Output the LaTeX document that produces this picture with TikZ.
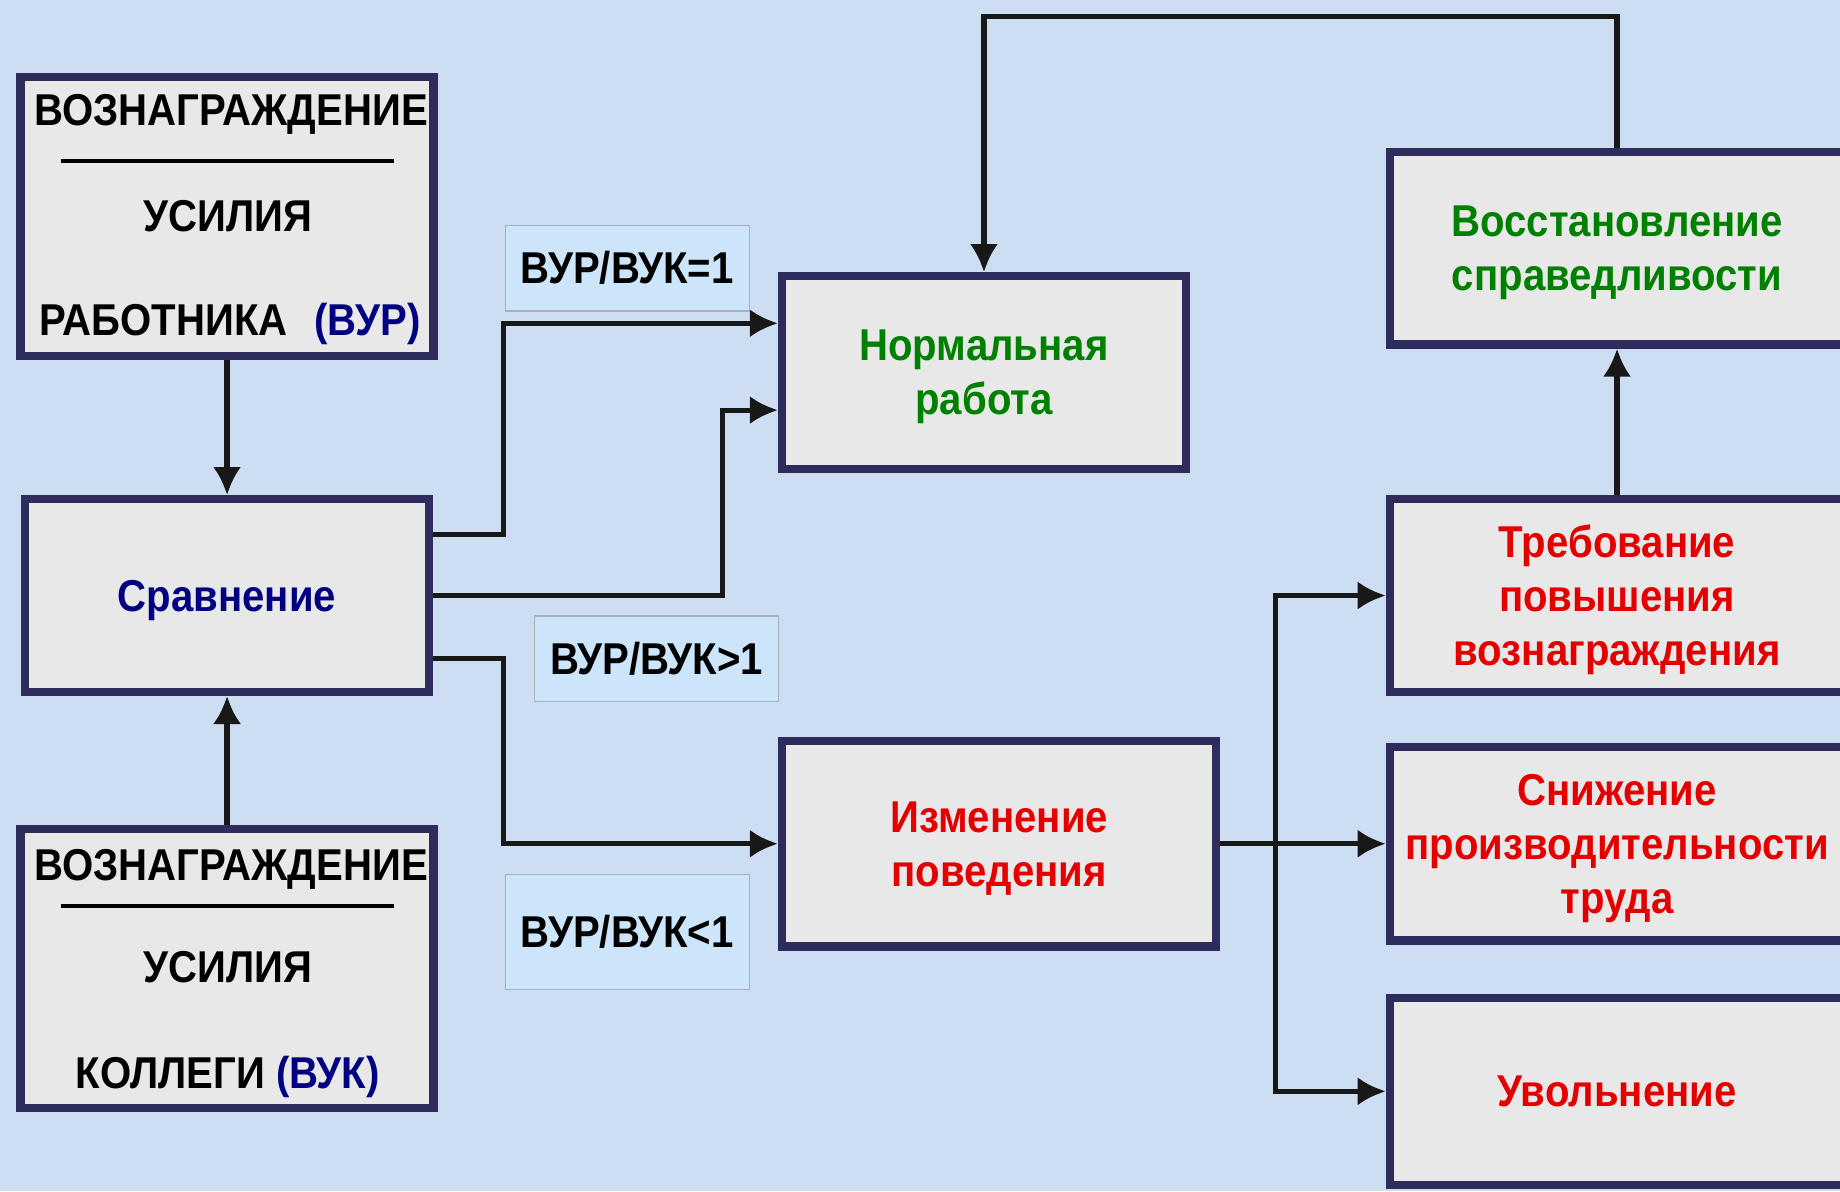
\documentclass[tikz,border=0pt]{standalone}
\usepackage{fontspec}
\setmainfont{Liberation Sans}[FakeStretch=0.9]
\usetikzlibrary{arrows.meta}
\definecolor{bgblue}{RGB}{206,222,242}
\definecolor{boxgray}{RGB}{232,232,232}
\definecolor{boxnavy}{RGB}{46,44,92}
\definecolor{lblblue}{RGB}{204,229,251}
\definecolor{lblgray}{RGB}{168,176,186}
\definecolor{txtgreen}{RGB}{0,128,0}
\definecolor{txtred}{RGB}{228,0,0}
\definecolor{txtnavy}{RGB}{0,0,128}
\definecolor{linkblack}{RGB}{24,24,24}
\begin{document}
\begin{tikzpicture}[x=0.5pt,y=-0.5pt,>={Latex[length=12pt,width=12pt]},line join=bevel,
  box/.style={draw=boxnavy,line width=3.5pt,fill=boxgray,line join=miter,align=center,inner sep=0pt,text depth=0pt,font=\fontsize{19}{23}\selectfont\bfseries},
  lbl/.style={draw=lblgray,line width=0.5pt,fill=lblblue,minimum width=104pt,inner sep=0pt,font=\fontsize{19}{23}\selectfont\bfseries},
  capt/.style={anchor=base,inner sep=0pt,font=\fontsize{19}{23}\selectfont\bfseries},
  link/.style={draw=linkblack,line width=2.2pt,line join=miter,->}]
%%
\path [use as bounding box,fill=bgblue] (0,0) rectangle (1568,1015);
\clip (0,0) rectangle (1568,1015);
%
\node (node_vur) at (193.5,184.5) [box,minimum width=176pt,minimum height=119pt] {};
  \node (node_vur_a) at (197,107) [capt] {ВОЗНАГРАЖДЕНИЕ};
  \draw [black,line width=1.5pt] (52,137) -- (336,137);
  \node (node_vur_b) at (194,197) [capt] {УСИЛИЯ};
  \node (node_vur_c) at (196,286) [capt] {РАБОТНИКА\hspace{0.6em}\textcolor{txtnavy}{(ВУР)}};
\node (node_cmp) at (193.5,507.5) [box,text=txtnavy,minimum width=172pt,minimum height=82pt] {Сравнение};
\node (node_vuk) at (193.5,825.5) [box,minimum width=176pt,minimum height=119pt] {};
  \node (node_vuk_a) at (197,750) [capt] {ВОЗНАГРАЖДЕНИЕ};
  \draw [black,line width=1.5pt] (52,772) -- (336,772);
  \node (node_vuk_b) at (194,837) [capt] {УСИЛИЯ};
  \node (node_vuk_c) at (194,928) [capt] {КОЛЛЕГИ \textcolor{txtnavy}{(ВУК)}};
%
\node (node_norm) at (838.5,317.5) [box,text=txtgreen,minimum width=172pt,minimum height=82pt] {Нормальная\\работа};
\node (node_chg) at (851.5,719) [box,text=txtred,minimum width=185pt,minimum height=87.5pt] {Изменение\\поведения};
\node (node_rest) at (1378,211.5) [box,text=txtgreen,minimum width=193.5pt,minimum height=82pt] {Восстановление\\справедливости};
\node (node_req) at (1378,507.5) [box,text=txtred,minimum width=193.5pt,minimum height=82pt] {Требование\\повышения\\вознаграждения};
\node (node_drop) at (1378,719) [box,text=txtred,minimum width=193.5pt,minimum height=82.5pt] {Снижение\\производительности\\труда};
\node (node_quit) at (1378,930) [box,text=txtred,minimum width=193.5pt,minimum height=79.5pt] {Увольнение};
%
\node (node_eq) at (534.5,228.5) [lbl,minimum height=36.5pt] {ВУР/ВУК=1};
\node (node_gt) at (559.5,561.5) [lbl,minimum height=36.5pt] {ВУР/ВУК>1};
\node (node_lt) at (534.5,794) [lbl,minimum height=49pt] {ВУР/ВУК<1};
%
\draw [link] (node_vur) -- (node_cmp);
\draw [link] (node_vuk) -- (node_cmp);
\draw [link] ([yshift=26pt]node_cmp.east) -- ++(60,0) |- ([yshift=21pt]node_norm.west);
\draw [link] (node_cmp.east) -- ++(247,0) |- ([yshift=-16pt]node_norm.west);
\draw [link] ([yshift=-27pt]node_cmp.east) -- ++(60,0) |- (node_chg.west);
\draw [link] (node_chg) -- (node_drop);
\coordinate (node_split) at ([xshift=23.5pt]node_chg.east);
\draw [link] (node_split) |- (node_req);
\draw [link] (node_split) |- (node_quit);
\draw [link] (node_req) -- (node_rest);
\draw [link] (node_rest.north) -- ++(0,-112) -| (node_norm.north);
%
\end{tikzpicture}
\end{document}
